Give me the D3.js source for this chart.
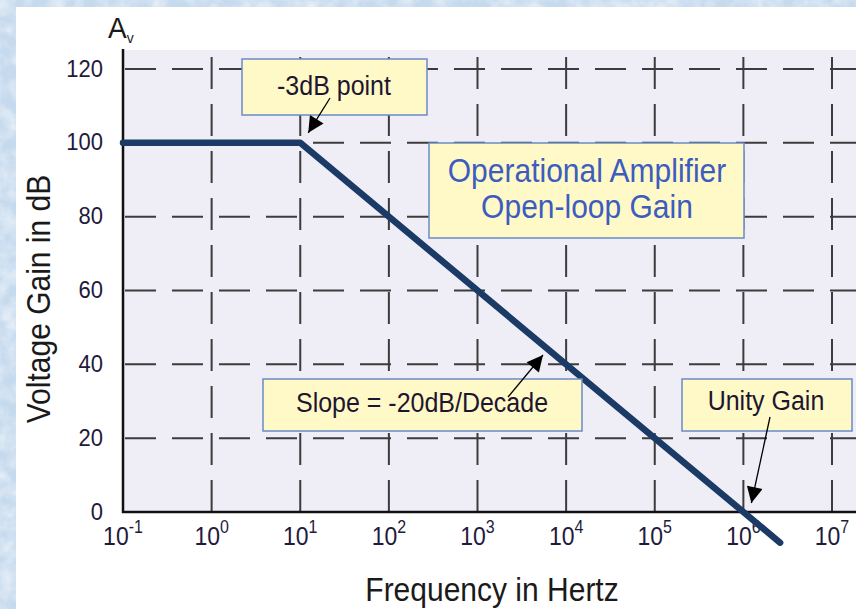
<!DOCTYPE html>
<html>
<head>
<meta charset="utf-8">
<script src="https://cdn.jsdelivr.net/npm/d3@7"></script>
<style>
  html, body { margin: 0; padding: 0; background: #c9dcee; }
  svg { display: block; }
  text { font-family: "Liberation Sans", Arial, sans-serif; }
</style>
</head>
<body>
<svg id="chart" width="856" height="609"></svg>
<script>
// ---- data ----
const freqTickValues = [1e-1, 1e0, 1e1, 1e2, 1e3, 1e4, 1e5, 1e6, 1e7];
const freqTickExponents = ["-1", "0", "1", "2", "3", "4", "5", "6", "7"];
const gainTickValues = [0, 20, 40, 60, 80, 100, 120];
const gainTickLabels = ["0", "20", "40", "60", "80", "100", "120"];
const curveFreq = [1e-1, 1e1, 1e6, 2.6e6];
const curveGain = [100, 100, 0, -8.3];
const yAxisTitle = "Voltage Gain in dB";
const xAxisTitle = "Frequency in Hertz";
const titleLines = ["Operational Amplifier", "Open-loop Gain"];
const noteLabels = ["-3dB point", "Slope = -20dB/Decade", "Unity Gain"];

// ---- setup ----
const W = 856, H = 609;
const S = 1.08; // vertical text stretch
const svg = d3.select("#chart");
const defs = svg.append("defs");

// textured blue background
const f = defs.append("filter").attr("id", "tex").attr("x", 0).attr("y", 0).attr("width", 1).attr("height", 1);
f.append("feTurbulence").attr("type", "fractalNoise").attr("baseFrequency", 0.06).attr("numOctaves", 3).attr("seed", 4).attr("result", "n");
f.append("feColorMatrix").attr("in", "n").attr("type", "matrix")
  .attr("values", "0 0 0 0 1  0 0 0 0 1  0 0 0 0 1  1.6 0 0 0 -0.55");
svg.append("rect").attr("width", W).attr("height", H).attr("fill", "#c6daee");
svg.append("rect").attr("width", W).attr("height", H).attr("filter", "url(#tex)").attr("opacity", 0.7);

// white panel
svg.append("rect").attr("x", 16).attr("y", 7).attr("width", W - 16).attr("height", H - 7).attr("fill", "#ffffff");

const x = d3.scaleLog().domain([1e-1, 1e7]).range([123, 832]);
const y = d3.scaleLinear().domain([0, 120]).range([512, 69]);
const plotTop = 50, plotRight = W;

// plot background
svg.append("rect").attr("x", x(1e-1)).attr("y", plotTop)
  .attr("width", plotRight - x(1e-1)).attr("height", y(0) - plotTop).attr("fill", "#efedf5");

// grid
const gridColor = "#3c3c3c";
svg.append("g").selectAll("line").data(gainTickValues.filter(d => d > 0)).join("line")
  .attr("x1", x(1e-1) + 2).attr("x2", plotRight)
  .attr("y1", d => y(d)).attr("y2", d => y(d))
  .attr("stroke", gridColor).attr("stroke-width", 2)
  .attr("stroke-dasharray", "31,16");

svg.append("g").selectAll("line").data(freqTickValues.slice(1)).join("line")
  .attr("x1", d => x(d)).attr("x2", d => x(d))
  .attr("y1", y(0)).attr("y2", plotTop + 3)
  .attr("stroke", gridColor).attr("stroke-width", 2)
  .attr("stroke-dasharray", "32,15");

// y axis labels via d3 axis
const yAxis = d3.axisLeft(y).tickValues(gainTickValues).tickFormat((d, i) => gainTickLabels[i]).tickSize(0).tickPadding(20);
const gy = svg.append("g").attr("transform", `translate(${x(1e-1)},0)`).call(yAxis);
gy.select(".domain").remove();
gy.selectAll("text").attr("font-size", 22).attr("fill", "#221a3c")
  .attr("font-family", "Liberation Sans, Arial, sans-serif")
  .attr("dy", null).attr("x", null)
  .attr("transform", `translate(-20,7) scale(1,${S})`);

svg.append("line").attr("x1", x(1e-1)).attr("x2", x(1e-1)).attr("y1", plotTop - 1).attr("y2", y(0) + 1)
  .attr("stroke", "#111").attr("stroke-width", 2.5);
svg.append("line").attr("x1", x(1e-1) - 1).attr("x2", plotRight).attr("y1", y(0)).attr("y2", y(0))
  .attr("stroke", "#111").attr("stroke-width", 2.5);

// x tick labels with superscripts
const xl = svg.append("g").selectAll("text").data(freqTickValues).join("text")
  .attr("transform", d => `translate(${x(d)},545) scale(1,${S + 0.04})`)
  .attr("text-anchor", "middle").attr("fill", "#221a3c").attr("font-size", 23);
xl.append("tspan").text("10");
xl.append("tspan").attr("dy", -11).attr("font-size", 16).text((d, i) => freqTickExponents[i]);

// axis titles
svg.append("text").attr("transform", `translate(50,299) rotate(-90) scale(1,${S})`)
  .attr("text-anchor", "middle").attr("font-size", 30).attr("fill", "#1a1a1a").text(yAxisTitle);
svg.append("text").attr("transform", `translate(492,601) scale(1,${S})`)
  .attr("text-anchor", "middle").attr("font-size", 30).attr("fill", "#1a1a1a").text(xAxisTitle);

// A_v label
const av = svg.append("text").attr("transform", `translate(108,38) scale(1,${S})`).attr("font-size", 28).attr("fill", "#1a1a1a");
av.append("tspan").text("A");
av.append("tspan").attr("dy", 5).attr("font-size", 14).text("v");

// arrowhead marker
defs.append("marker").attr("id", "ah").attr("viewBox", "0 0 10 10").attr("refX", 10).attr("refY", 5)
  .attr("markerUnits", "userSpaceOnUse").attr("markerWidth", 22).attr("markerHeight", 16).attr("orient", "auto")
  .append("path").attr("d", "M0,0 L10,5 L0,10 Z").attr("fill", "#000");

// annotation boxes
const boxFill = "#fef9c7", boxStroke = "#6a8ac8";
function box(x0, y0, x1, y1) {
  svg.append("rect").attr("x", x0).attr("y", y0).attr("width", x1 - x0).attr("height", y1 - y0)
    .attr("fill", boxFill).attr("stroke", boxStroke).attr("stroke-width", 1.5);
}
function arrow(x0, y0, x1, y1) {
  svg.append("line").attr("x1", x0).attr("y1", y0).attr("x2", x1).attr("y2", y1)
    .attr("stroke", "#000").attr("stroke-width", 1.3).attr("marker-end", "url(#ah)");
}
function label(tx, ty, txt, size, color) {
  return svg.append("text").attr("transform", `translate(${tx},${ty}) scale(1,${S})`)
    .attr("text-anchor", "middle").attr("font-size", size).attr("fill", color).text(txt);
}

// data line
const pts = curveFreq.map((fq, i) => [x(fq), y(curveGain[i])]);
svg.append("path").attr("d", d3.line()(pts)).attr("fill", "none")
  .attr("stroke", "#1b3a66").attr("stroke-width", 6.5)
  .attr("stroke-linecap", "round").attr("stroke-linejoin", "round");

// -3dB point
box(242, 59, 427, 115);
label(334, 95, noteLabels[0], 25, "#1e1630");
arrow(330, 98, x(1e1) + 8, y(100) - 10);

// title box
box(429, 143, 744, 238);
titleLines.forEach((t, i) => label(587, 182 + i * 36, t, 30, "#3d5cbf"));

// slope
box(263, 379, 582, 431);
label(422, 412, noteLabels[1], 25, "#1e1630");
arrow(508, 397, 543, 355);

// unity gain
box(682, 379, 852, 431);
label(766, 410, noteLabels[2], 25, "#1e1630");
arrow(770, 417, x(1e6) + 8, y(0) - 9);
</script>
</body>
</html>
